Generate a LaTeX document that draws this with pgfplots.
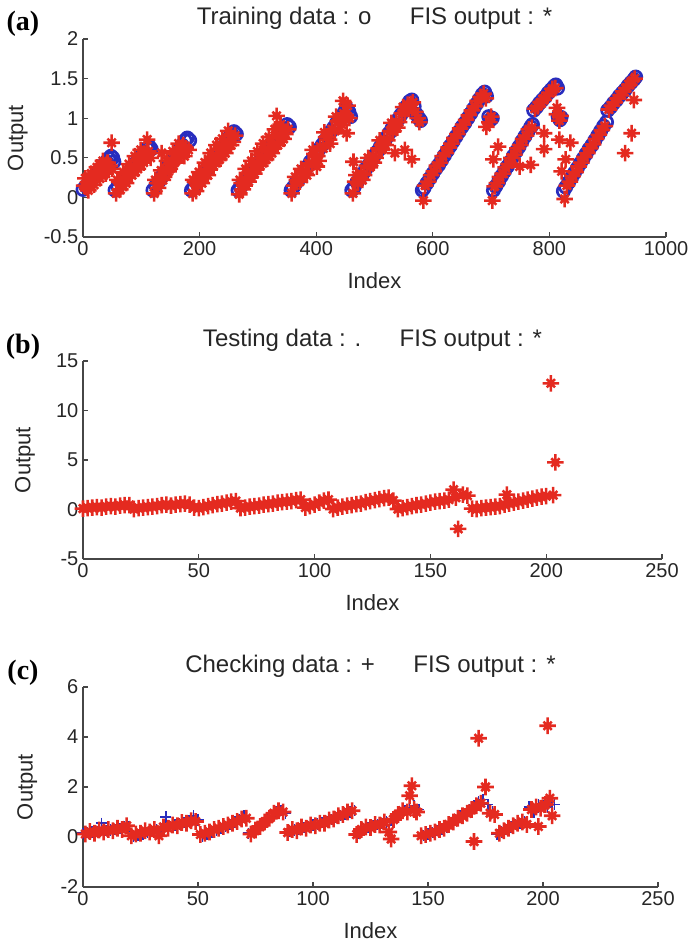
\documentclass[border=0pt]{standalone}
\usepackage{pgfplots}
\pgfplotsset{compat=1.18}
\usepackage{fontspec}
\setmainfont{Liberation Sans}
\newfontfamily\tnr{Liberation Serif}
\definecolor{mred}{RGB}{228,42,32}
\definecolor{mblue}{RGB}{40,45,190}
\definecolor{axgray}{RGB}{70,70,70}
\pgfdeclareplotmark{mstar}{%
  \pgfpathmoveto{\pgfqpoint{-\pgfplotmarksize}{0pt}}%
  \pgfpathlineto{\pgfqpoint{\pgfplotmarksize}{0pt}}%
  \pgfpathmoveto{\pgfqpoint{0pt}{-\pgfplotmarksize}}%
  \pgfpathlineto{\pgfqpoint{0pt}{\pgfplotmarksize}}%
  \pgfpathmoveto{\pgfqpoint{-0.5\pgfplotmarksize}{-0.5\pgfplotmarksize}}%
  \pgfpathlineto{\pgfqpoint{0.5\pgfplotmarksize}{0.5\pgfplotmarksize}}%
  \pgfpathmoveto{\pgfqpoint{-0.5\pgfplotmarksize}{0.5\pgfplotmarksize}}%
  \pgfpathlineto{\pgfqpoint{0.5\pgfplotmarksize}{-0.5\pgfplotmarksize}}%
  \pgfusepathqstroke}
\pgfplotsset{
  mstyle/.style={
    scale only axis, clip=false, anchor=south west,
    axis x line*=bottom, axis y line*=left,
    axis line style={axgray, line width=0.9pt, -},
    tick align=inside, major tick length=4pt,
    tick style={axgray, line width=0.9pt},
    every tick label/.append style={font=\fontsize{15}{15}\selectfont, text=black!85},
    /pgf/number format/assume math mode=true,
    /pgf/number format/1000 sep={},
    scaled ticks=false,
    xlabel={Index}, ylabel={Output},
    label style={font=\fontsize{16.5}{16.5}\selectfont, text=black!85},
    xlabel style={at={(axis description cs:0.5,0)}, anchor=center, yshift=-33pt},
    title style={font=\fontsize{18}{18}\selectfont, text=black!85, at={(axis description cs:0.5,1)}, anchor=base, yshift=5pt},
  },
  fisstar/.style={only marks, mark=mstar, mark size=6.2pt, mred, line width=1.9pt},
}
\begin{document}
\begin{tikzpicture}
\useasboundingbox (0,0) rectangle (516pt,-706.5pt);
% ---------------- (a) ----------------
\begin{axis}[mstyle, at={(62.25pt,-177.75pt)}, width=437.25pt, height=148.5pt,
  xmin=0, xmax=1000, ymin=-0.5, ymax=2,
  xtick={0,200,...,1000}, ytick={-0.5,0,0.5,1,1.5,2},
  ylabel style={at={(axis description cs:-0.112,0.5)}, anchor=center},
  title={Training data : o\hspace{1.6em}FIS output : *}]
\addplot[only marks, mark=o, mark size=4.6pt, mblue, line width=2pt] table {
0 0.10
5 0.14
10 0.19
15 0.23
20 0.28
25 0.32
30 0.36
35 0.41
40 0.45
44 0.49
48 0.52
51 0.50
53 0.45
55 0.09
60 0.14
65 0.19
70 0.23
75 0.28
80 0.33
85 0.38
90 0.43
95 0.48
100 0.52
105 0.57
110 0.62
114 0.64
117 0.61
120 0.09
125 0.15
130 0.20
135 0.26
140 0.32
145 0.38
150 0.43
155 0.49
160 0.55
165 0.60
170 0.66
175 0.72
179 0.75
183 0.72
186 0.09
190 0.13
195 0.18
200 0.23
205 0.28
210 0.34
215 0.39
220 0.44
225 0.49
230 0.54
235 0.59
240 0.64
245 0.70
250 0.75
255 0.80
259 0.83
263 0.80
266 0.09
270 0.13
275 0.18
280 0.23
285 0.28
290 0.33
295 0.38
300 0.43
305 0.48
310 0.53
315 0.57
320 0.62
325 0.67
330 0.72
335 0.77
340 0.82
345 0.87
350 0.92
354 0.89
357 0.09
360 0.12
365 0.18
370 0.23
375 0.28
380 0.34
385 0.39
390 0.45
395 0.50
400 0.56
405 0.61
410 0.66
415 0.72
420 0.77
425 0.83
430 0.88
435 0.94
440 0.99
445 1.04
450 1.10
453 1.12
456 1.08
459 1.02
461 0.09
465 0.13
470 0.19
475 0.25
480 0.30
485 0.36
490 0.41
495 0.47
500 0.53
505 0.58
510 0.64
515 0.70
520 0.75
525 0.81
530 0.87
535 0.92
540 0.98
545 1.04
550 1.09
555 1.15
560 1.21
564 1.23
568 1.15
572 1.05
576 1.00
579 0.97
582 0.09
585 0.12
590 0.18
595 0.24
600 0.30
605 0.36
610 0.41
615 0.47
620 0.53
625 0.59
630 0.65
635 0.71
640 0.77
645 0.83
650 0.89
655 0.94
660 1.00
665 1.06
670 1.12
675 1.18
680 1.24
685 1.30
689 1.33
692 1.28
696 1.02
699 0.98
702 1.00
704 0.09
708 0.14
713 0.20
718 0.27
723 0.33
728 0.39
733 0.45
738 0.52
743 0.58
748 0.64
753 0.71
758 0.77
763 0.83
768 0.89
771 0.92
773 1.10
778 1.14
783 1.19
788 1.23
793 1.27
798 1.32
803 1.36
808 1.40
811 1.42
814 1.38
815 1.02
818 0.98
820 1.01
824 0.08
828 0.13
833 0.19
838 0.25
843 0.31
848 0.37
853 0.43
858 0.49
863 0.55
868 0.61
873 0.66
878 0.72
883 0.78
888 0.84
893 0.90
898 0.95
900 1.10
905 1.14
910 1.19
915 1.23
920 1.28
925 1.32
930 1.36
935 1.41
940 1.45
945 1.49
948 1.52
};
\addplot[fisstar] table {
2 0.15
4 0.24
7 0.12
9 0.09
12 0.24
14 0.30
17 0.20
19 0.16
22 0.33
24 0.38
27 0.28
29 0.24
32 0.40
34 0.46
37 0.36
39 0.30
42 0.44
44 0.36
46 0.40
49 0.69
50 0.36
57 0.05
59 0.22
62 0.20
64 0.10
67 0.16
69 0.32
72 0.30
74 0.18
77 0.25
79 0.42
82 0.38
84 0.28
87 0.34
89 0.52
92 0.46
94 0.36
97 0.42
99 0.60
102 0.55
104 0.44
107 0.50
109 0.56
110 0.73
112 0.58
116 0.50
122 0.05
124 0.22
127 0.18
129 0.12
132 0.24
134 0.34
135 0.56
137 0.22
139 0.26
142 0.36
144 0.46
147 0.33
149 0.36
152 0.46
154 0.58
157 0.44
159 0.46
162 0.58
164 0.68
167 0.55
169 0.58
172 0.66
174 0.52
176 0.62
181 0.60
188 0.05
189 0.22
192 0.20
194 0.08
197 0.15
199 0.32
202 0.30
204 0.18
207 0.24
209 0.44
212 0.40
214 0.28
217 0.35
219 0.56
222 0.50
224 0.40
227 0.45
229 0.66
232 0.60
234 0.48
237 0.52
239 0.74
242 0.68
244 0.56
247 0.62
249 0.84
252 0.78
254 0.66
257 0.70
261 0.78
268 0.04
269 0.22
272 0.18
274 0.10
277 0.15
279 0.36
282 0.30
284 0.20
287 0.25
289 0.46
292 0.40
294 0.30
297 0.35
299 0.58
302 0.50
304 0.40
307 0.44
309 0.68
312 0.60
314 0.48
317 0.52
319 0.76
322 0.68
324 0.56
327 0.62
329 0.86
332 1.03
332 0.78
334 0.66
337 0.70
339 0.92
342 0.85
344 0.74
347 0.80
352 0.86
358 0.05
362 0.15
364 0.26
367 0.22
372 0.20
374 0.36
377 0.33
382 0.30
384 0.28
387 0.43
392 0.42
394 0.60
397 0.55
401 0.39
402 0.52
404 0.46
407 0.64
412 0.62
414 0.82
417 0.76
422 0.73
424 0.68
427 0.86
432 0.84
434 1.02
437 0.96
442 0.95
444 0.92
446 1.22
447 1.06
451 1.02
452 0.81
454 1.16
457 1.00
463 0.05
464 0.45
467 0.20
469 0.28
472 0.18
477 0.30
479 0.22
482 0.28
487 0.40
489 0.50
492 0.38
497 0.52
499 0.44
502 0.50
507 0.62
509 0.72
512 0.60
517 0.73
519 0.66
522 0.72
527 0.84
529 0.94
532 0.83
535 0.56
537 0.95
539 0.88
542 0.95
547 1.06
549 1.14
552 1.07
552 0.60
557 1.17
559 1.12
562 1.18
564 0.48
566 1.20
570 1.08
574 1.00
577 0.95
584 -0.04
587 0.15
592 0.20
597 0.28
602 0.33
607 0.40
612 0.44
617 0.52
622 0.56
627 0.63
632 0.68
637 0.75
642 0.80
647 0.87
652 0.92
657 0.98
662 1.04
667 1.10
672 1.15
677 1.22
682 1.27
687 1.31
691 1.25
692 0.89
697 0.95
700 1.02
702 -0.04
704 0.48
706 0.14
710 0.18
712 0.64
715 0.26
720 0.30
725 0.38
730 0.42
735 0.50
740 0.54
745 0.62
749 0.39
750 0.66
755 0.74
760 0.78
765 0.86
768 0.41
770 0.88
775 1.12
780 1.15
785 1.20
790 1.23
791 0.81
791 0.61
795 1.28
800 1.32
805 1.37
810 1.38
813 1.13
813 1.05
817 0.73
817 0.97
819 1.03
821 0.33
826 -0.02
828 0.48
830 0.15
835 0.20
836 0.69
840 0.27
845 0.32
850 0.39
855 0.44
860 0.51
865 0.56
870 0.62
875 0.67
880 0.74
885 0.79
890 0.85
895 0.90
902 1.11
907 1.16
912 1.20
917 1.25
922 1.29
927 1.34
930 0.56
932 1.38
937 1.42
941 0.81
942 1.47
945 1.23
946 1.50
};
\end{axis}
% ---------------- (b) ----------------
\begin{axis}[mstyle, at={(62.25pt,-419.25pt)}, width=434.25pt, height=148.5pt,
  xmin=0, xmax=250, ymin=-5, ymax=15,
  xtick={0,50,...,250}, ytick={-5,0,5,10,15},
  ylabel style={at={(axis description cs:-0.1,0.5)}, anchor=center},
  title={Testing data : .\hspace{1.6em}FIS output : *}]
\addplot[only marks, mark=*, mark size=1pt, mblue] table {
1 0.12
5 0.22
9 0.25
13 0.32
17 0.42
21 0.10
25 0.18
29 0.28
33 0.38
37 0.45
41 0.52
45 0.58
49 0.18
53 0.30
57 0.50
61 0.65
65 0.82
69 0.18
73 0.32
77 0.45
81 0.58
85 0.72
89 0.82
93 0.95
97 0.30
101 0.60
105 0.95
109 0.15
113 0.35
117 0.50
121 0.68
125 0.90
129 1.10
133 1.20
137 0.10
141 0.30
145 0.48
149 0.65
153 0.82
157 0.95
161 1.30
165 1.50
169 0.08
173 0.18
177 0.28
181 0.40
185 0.65
189 0.85
193 1.05
197 1.25
201 1.40
204 1.50
};
\addplot[fisstar] table {
0 0.10
2 0.15
4 0.20
6 0.25
8 0.20
10 0.30
12 0.35
14 0.30
16 0.40
18 0.45
20 0.45
22 0.05
24 0.15
26 0.20
28 0.25
30 0.30
32 0.35
34 0.45
36 0.50
38 0.40
40 0.50
42 0.55
44 0.60
46 0.50
48 0.20
50 0.15
52 0.25
54 0.35
56 0.45
58 0.55
60 0.60
62 0.70
64 0.80
66 0.85
68 0.15
70 0.20
72 0.30
74 0.35
76 0.40
78 0.50
80 0.55
82 0.60
84 0.70
86 0.75
88 0.80
90 0.85
92 0.95
94 1.00
96 0.20
98 0.35
100 0.50
102 0.70
104 0.90
106 1.00
108 0.05
110 0.20
112 0.30
114 0.40
116 0.45
118 0.55
120 0.60
122 0.75
124 0.85
126 0.95
128 1.05
130 1.15
132 1.20
134 0.90
136 0.05
138 0.15
140 0.25
142 0.35
144 0.45
146 0.50
148 0.60
150 0.70
152 0.80
154 0.85
156 0.90
158 1.00
160 2.00
161 1.20
162 -1.95
164 1.50
166 1.40
168 0.10
170 0.05
172 0.15
174 0.20
176 0.25
178 0.30
180 0.35
182 0.50
183 1.50
184 0.60
186 0.70
188 0.80
190 0.90
192 1.00
194 1.10
196 1.20
198 1.30
200 1.35
202 12.75
203 1.45
204 4.75
};
\end{axis}
% ---------------- (c) ----------------
\begin{axis}[mstyle, at={(62.25pt,-665.25pt)}, width=431.25pt, height=150pt,
  xmin=0, xmax=250, ymin=-2, ymax=6,
  xtick={0,50,...,250}, ytick={-2,0,2,4,6},
  ylabel style={at={(axis description cs:-0.097,0.5)}, anchor=center},
  title={Checking data : +\hspace{1.6em}FIS output : *}]
\addplot[only marks, mark=+, mark size=4.2pt, mblue, line width=1.3pt] table {
0 0.15
2 0.18
4 0.20
6 0.22
8 0.55
10 0.25
12 0.28
14 0.30
16 0.35
18 0.40
20 0.42
22 0.02
24 0.08
26 0.12
28 0.18
30 0.22
32 0.28
34 0.32
36 0.80
38 0.42
40 0.48
42 0.52
44 0.58
46 0.62
48 0.85
50 0.68
52 0.02
54 0.10
56 0.18
58 0.25
60 0.35
62 0.42
64 0.50
66 0.60
68 0.70
70 0.85
72 0.15
74 0.22
76 0.35
78 0.50
80 0.70
82 0.85
84 1.00
86 1.05
88 0.95
90 0.22
92 0.28
94 0.32
96 0.38
98 0.42
100 0.48
102 0.52
104 0.58
106 0.62
108 0.70
110 0.78
112 0.85
114 0.92
116 1.00
118 1.05
120 0.15
122 0.30
124 0.38
126 0.45
128 0.50
130 0.55
132 0.60
134 0.68
136 0.80
138 0.95
140 1.05
142 1.15
144 1.25
146 1.10
148 0.05
150 0.12
152 0.18
154 0.25
156 0.32
158 0.40
160 0.55
162 0.70
164 0.85
166 0.95
168 1.10
170 1.25
172 1.40
174 1.50
176 1.30
178 1.00
180 0.10
182 0.20
184 0.30
186 0.40
188 0.50
190 0.55
192 0.60
194 1.20
196 1.00
198 1.30
200 1.25
202 1.20
204 1.30
205 1.30
};
\addplot[fisstar] table {
1 0.12
3 0.22
5 0.15
7 0.28
9 0.20
11 0.30
13 0.25
15 0.35
17 0.30
19 0.45
21 0.05
23 0.12
25 0.15
27 0.25
29 0.20
31 0.30
33 0.05
35 0.40
37 0.35
39 0.48
41 0.45
43 0.58
45 0.55
47 0.65
49 0.62
51 0.10
53 0.15
55 0.20
57 0.30
59 0.35
61 0.42
63 0.48
65 0.55
67 0.62
69 0.72
71 0.75
73 0.12
75 0.28
77 0.42
79 0.60
81 0.75
83 0.95
85 1.05
87 1.00
89 0.18
91 0.30
93 0.25
95 0.40
97 0.35
99 0.48
101 0.45
103 0.55
105 0.55
107 0.68
109 0.72
111 0.85
113 0.90
115 1.00
117 1.05
119 0.10
121 0.30
123 0.40
125 0.38
127 0.50
129 0.48
131 0.60
133 0.20
134 -0.08
135 0.70
137 0.90
139 1.05
141 1.00
142 1.65
143 2.05
144 1.10
145 1.00
147 0.05
149 0.10
151 0.15
153 0.20
155 0.30
157 0.35
159 0.50
161 0.60
163 0.75
165 0.85
167 0.95
169 1.10
170 -0.18
171 1.25
172 3.95
173 1.35
175 2.00
177 0.95
179 0.90
181 0.15
183 0.25
185 0.35
187 0.45
189 0.55
191 0.60
193 0.50
195 1.10
197 1.20
198 0.42
199 1.15
201 1.30
202 4.45
203 1.55
204 0.85
};
\end{axis}
\node[font=\tnr\bfseries\fontsize{21}{21}\selectfont] at (17.25pt,-18pt) {(a)};
\node[font=\tnr\bfseries\fontsize{21}{21}\selectfont] at (17.25pt,-260.25pt) {(b)};
\node[font=\tnr\bfseries\fontsize{21}{21}\selectfont] at (17.25pt,-504.75pt) {(c)};
\end{tikzpicture}
\end{document}
